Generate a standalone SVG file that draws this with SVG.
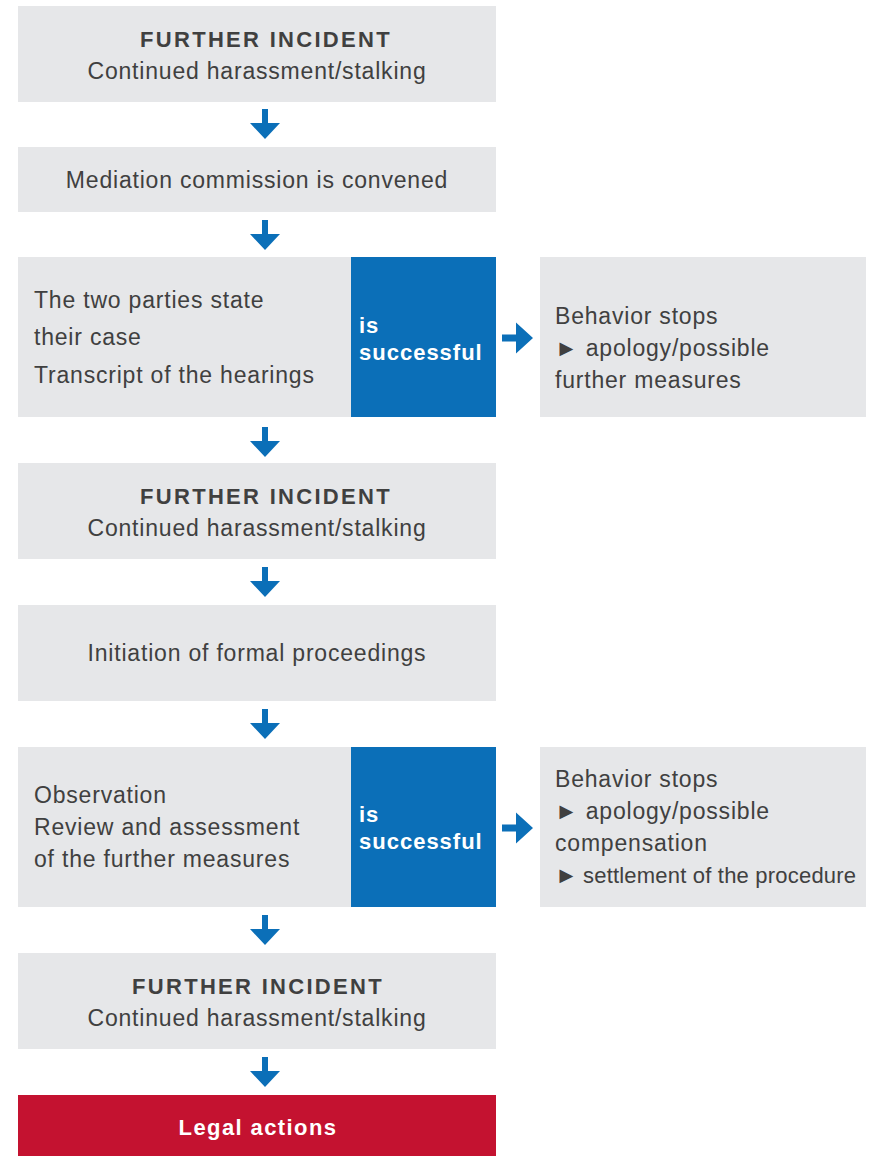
<svg xmlns="http://www.w3.org/2000/svg" xmlns:xlink="http://www.w3.org/1999/xlink" width="874" height="1156" viewBox="0 0 874 1156">
<defs>
<style>
.box{fill:#E6E7E9}
.blue{fill:#0B6FB8}
.red{fill:#C41230}
.t{font-family:"Liberation Sans",Arial,sans-serif;font-size:23px;fill:#404040;letter-spacing:0.8px}
.h{font-family:"Liberation Sans",Arial,sans-serif;font-size:22px;font-weight:bold;fill:#404040;letter-spacing:2.3px}
.w{font-family:"Liberation Sans",Arial,sans-serif;font-size:22px;font-weight:bold;fill:#FFFFFF;letter-spacing:1px}
.c{text-anchor:middle}
.arr{fill:#0B6FB8}
</style>
<path id="down" d="M-3,0 H3 V14 H15 L0,30 L-15,14 H-3 Z"/>
<path id="right" d="M0,-3.5 H14 V-15.5 L31,0 L14,15.5 V3.5 H0 Z"/>
</defs>
<rect width="874" height="1156" fill="#FFFFFF"/>

<g id="n1">
<rect class="box" x="18" y="6" width="478" height="96"/>
<text class="h c" x="266" y="47">FURTHER INCIDENT</text>
<text class="t c" x="257" y="79">Continued harassment/stalking</text>
</g>

<g id="n2">
<rect class="box" x="18" y="147" width="478" height="65"/>
<text class="t c" x="257" y="188">Mediation commission is convened</text>
</g>

<g id="n3">
<rect class="box" x="18" y="257" width="333" height="160"/>
<text class="t" x="34" y="308">The two parties state</text>
<text class="t" x="34" y="345">their case</text>
<text class="t" x="34" y="383">Transcript of the hearings</text>
</g>
<g id="s1">
<rect class="blue" x="351" y="257" width="145" height="160"/>
<text class="w" x="359" y="333">is</text>
<text class="w" x="359" y="360">successful</text>
</g>
<g id="r1">
<rect class="box" x="540" y="257" width="326" height="160"/>
<text class="t" x="555" y="324">Behavior stops</text>
<text class="t" x="555" y="356">► apology/possible</text>
<text class="t" x="555" y="388">further measures</text>
</g>

<g id="n4">
<rect class="box" x="18" y="463" width="478" height="96"/>
<text class="h c" x="266" y="504">FURTHER INCIDENT</text>
<text class="t c" x="257" y="536">Continued harassment/stalking</text>
</g>

<g id="n5">
<rect class="box" x="18" y="605" width="478" height="96"/>
<text class="t c" x="257" y="661">Initiation of formal proceedings</text>
</g>

<g id="n6">
<rect class="box" x="18" y="747" width="333" height="160"/>
<text class="t" x="34" y="803">Observation</text>
<text class="t" x="34" y="835">Review and assessment</text>
<text class="t" x="34" y="867">of the further measures</text>
</g>
<g id="s2">
<rect class="blue" x="351" y="747" width="145" height="160"/>
<text class="w" x="359" y="822">is</text>
<text class="w" x="359" y="849">successful</text>
</g>
<g id="r2">
<rect class="box" x="540" y="747" width="326" height="160"/>
<text class="t" x="555" y="787">Behavior stops</text>
<text class="t" x="555" y="819">► apology/possible</text>
<text class="t" x="555" y="851">compensation</text>
<text class="t" x="555" y="883">►<tspan x="583" style="font-size:22px;letter-spacing:0.2px">settlement of the procedure</tspan></text>
</g>

<g id="n7">
<rect class="box" x="18" y="953" width="478" height="96"/>
<text class="h c" x="258" y="994">FURTHER INCIDENT</text>
<text class="t c" x="257" y="1026">Continued harassment/stalking</text>
</g>

<g id="n8">
<rect class="red" x="18" y="1095" width="478" height="61"/>
<text class="w c" x="258" y="1135" style="letter-spacing:1.4px">Legal actions</text>
</g>

<g id="connectors" class="arr">
<use xlink:href="#down" x="265" y="109"/>
<use xlink:href="#down" x="265" y="220"/>
<use xlink:href="#down" x="265" y="427"/>
<use xlink:href="#down" x="265" y="567"/>
<use xlink:href="#down" x="265" y="709"/>
<use xlink:href="#down" x="265" y="915"/>
<use xlink:href="#down" x="265" y="1057"/>
<use xlink:href="#right" x="502" y="338"/>
<use xlink:href="#right" x="502" y="828"/>
</g>
</svg>
